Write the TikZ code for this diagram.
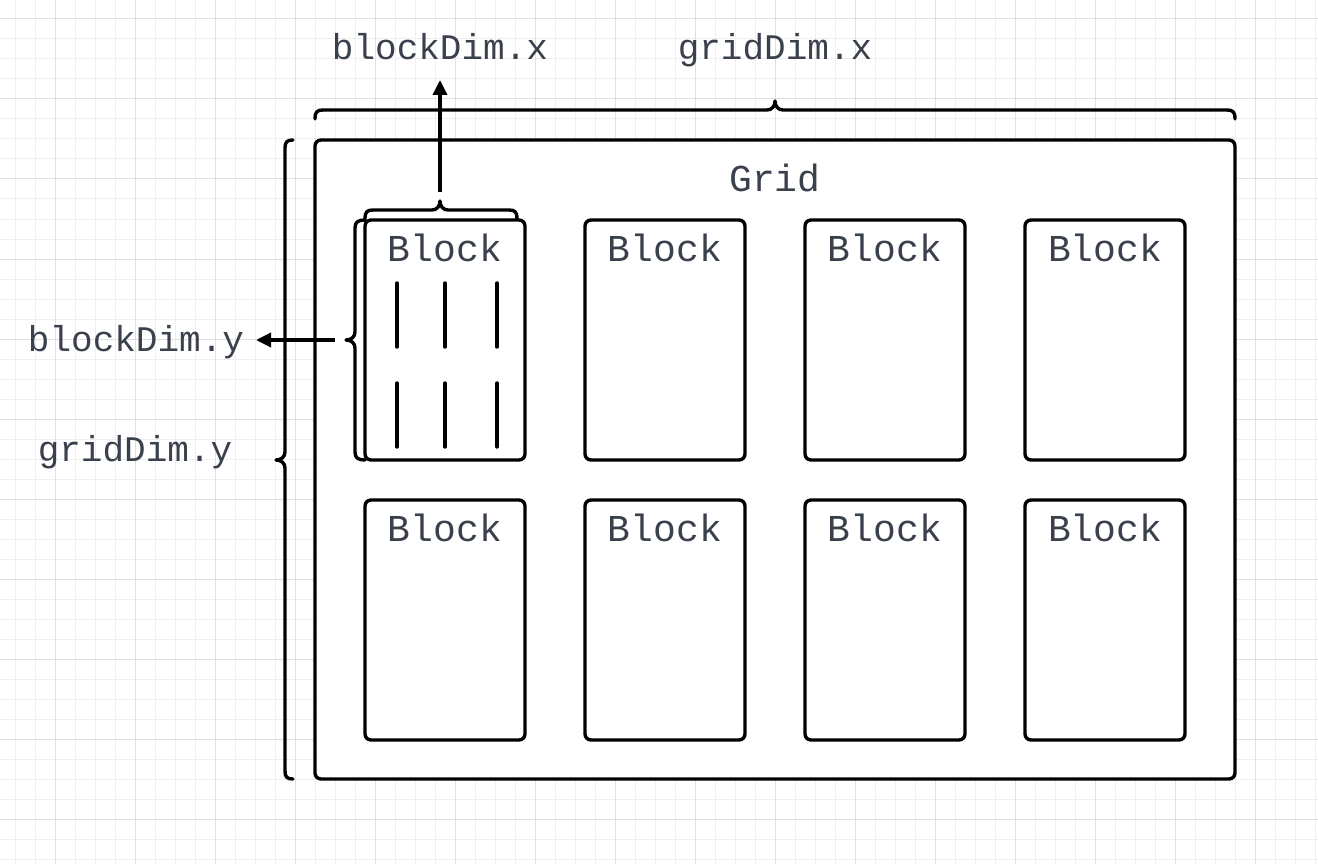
\documentclass[tikz,border=0pt]{standalone}
\usepackage{fontspec}
\newfontfamily\labelfont{Liberation Mono}
\usetikzlibrary{arrows.meta}
\definecolor{inkline}{HTML}{000000}
\definecolor{inktext}{HTML}{3A414C}
\definecolor{gridminor}{HTML}{EFEFEF}
\definecolor{gridmajor}{HTML}{E0E0E0}
\begin{document}
\begin{tikzpicture}[x=1pt,y=-1pt,
  outline/.style={draw=inkline,line width=3.4pt,rounded corners=6pt,fill=white},
  blockbox/.style={outline,minimum width=160pt,minimum height=240pt,inner sep=0pt},
  bracepath/.style={draw=inkline,line width=3.4pt,line cap=round,line join=round},
  dimarrow/.style={draw=inkline,line width=3.4pt,-{Triangle[length=15pt,width=14pt]}},
  thread/.style={draw=inkline,line width=3.4pt,line cap=round},
  txt/.style={text=inktext,font=\labelfont\fontsize{36}{40}\selectfont,inner sep=0pt,anchor=base},
  blocktxt/.style={txt,font=\labelfont\fontsize{38}{40}\selectfont}]
\useasboundingbox (0,0) rectangle (1318,864);
\fill[white] (0,0) rectangle (1318,864);
% background grid paper
\foreach \x in {15,35,...,1315} \draw[gridminor,line width=1pt] (\x,0) -- (\x,864);
\foreach \y in {19,39,...,859} \draw[gridminor,line width=1pt] (0,\y) -- (1318,\y);
\foreach \x in {55,135,...,1315} \draw[gridmajor,line width=1pt] (\x,0) -- (\x,864);
\foreach \y in {19,99,...,859} \draw[gridmajor,line width=1pt] (0,\y) -- (1318,\y);

% gridDim.x brace
\draw[bracepath] (315,119) .. controls (315,112) and (317,110) .. (323,110) -- (767,110)
  .. controls (772,110) and (775,106) .. (775,101)
  .. controls (775,106) and (778,110) .. (783,110) -- (1227,110)
  .. controls (1233,110) and (1235,112) .. (1235,119);
% gridDim.y brace
\draw[bracepath] (293,140) .. controls (287,140) and (285,142) .. (285,148) -- (285,452)
  .. controls (285,457) and (281,460) .. (276,460)
  .. controls (281,460) and (285,463) .. (285,468) -- (285,771)
  .. controls (285,777) and (287,779) .. (293,779);

% the grid
\node[outline,minimum width=920pt,minimum height=639pt,inner sep=0pt] (grid) at (775,459.5) {};
\node[blocktxt] (gridlbl) at (775,192) {Grid};

% blockDim.x brace
\draw[bracepath] (365,219) .. controls (365,212) and (367,210) .. (373,210) -- (432,210)
  .. controls (437,210) and (440,206) .. (440,201)
  .. controls (440,206) and (443,210) .. (448,210) -- (509,210)
  .. controls (515,210) and (517,212) .. (517,219);
% blockDim.y brace
\draw[bracepath] (365,220) .. controls (358,220) and (355,222) .. (355,228) -- (355,332)
  .. controls (355,337) and (351,340) .. (346,340)
  .. controls (351,340) and (355,343) .. (355,348) -- (355,452)
  .. controls (355,458) and (358,460) .. (365,460);

% blocks
\foreach \c/\cx in {1/445,2/665,3/885,4/1105} {
  \node[blockbox] (b1\c) at (\cx,340) {};
  \node[blocktxt] (b1\c lbl) at (\cx,261) {Block};
  \node[blockbox] (b2\c) at (\cx,620) {};
  \node[blocktxt] (b2\c lbl) at (\cx,541) {Block};
}

% threads inside the first block
\foreach \tx in {397,445,497} {
  \draw[thread] (\tx,283) -- (\tx,347);
  \draw[thread] (\tx,383) -- (\tx,447);
}

% dimension labels and arrows
\node[txt] (bdx) at (440,60) {blockDim.x};
\node[txt] (gdx) at (775,60) {gridDim.x};
\node[txt] (bdy) at (136,351) {blockDim.y};
\node[txt] (gdy) at (135,461) {gridDim.y};
\coordinate (bdxfoot) at (440,192);
\coordinate (bdxtip) at (440,80);
\coordinate (bdyfoot) at (335,340);
\coordinate (bdytip) at (256,340);
\draw[dimarrow] (bdxfoot) -- (bdxtip);
\draw[dimarrow] (bdyfoot) -- (bdytip);
\end{tikzpicture}
\end{document}
